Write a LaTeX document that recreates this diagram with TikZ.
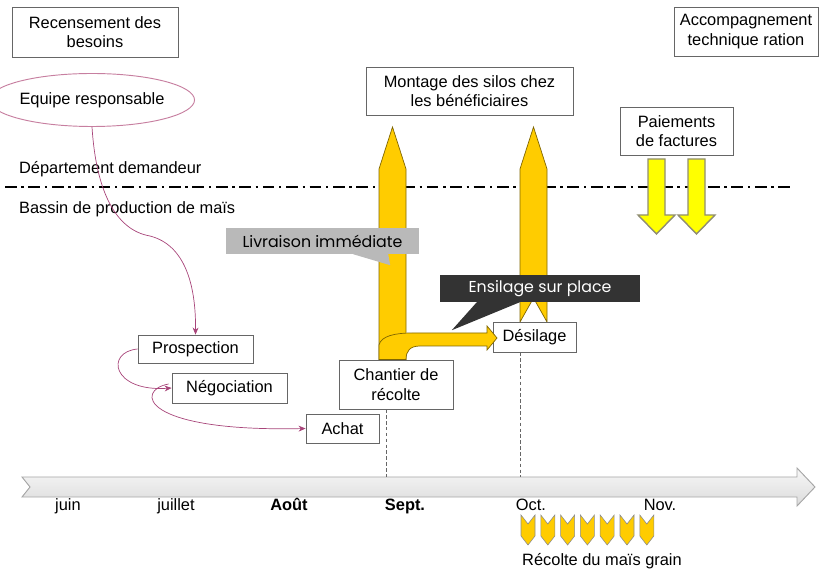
\documentclass[tikz,border=0pt]{standalone}
\usepackage{fontspec}
\setmainfont{Liberation Sans}
\newfontfamily\comicfont{Poppins}
\usetikzlibrary{shapes.geometric,positioning,arrows.meta,calc}

\definecolor{maisgold}{HTML}{FFCC00}
\definecolor{payyellow}{HTML}{FFFF00}
\definecolor{mauve}{HTML}{A8457A}
\definecolor{pinkline}{HTML}{C77FA0}
\definecolor{darkcall}{HTML}{333333}

\begin{document}
\begin{tikzpicture}[
    x=0.03cm, y=-0.03cm,
    font=\fontsize{14}{16.5}\selectfont,
    tbox/.style={rectangle, draw=black!60, fill=white, line width=0.7pt, align=center, inner sep=0pt},
    oval/.style={ellipse, draw=pinkline, line width=0.8pt, inner sep=0pt},
    link/.style={-{Stealth[length=6pt,width=5pt]}, draw=mauve, line width=0.6pt},
    silo/.style={fill=maisgold, draw=black!50!maisgold, line width=0.6pt},
    pay/.style={fill=payyellow, draw=gray!80!olive, line width=1.2pt},
    callout/.style={rectangle, inner sep=0pt, font=\comicfont\fontsize{13.5}{15}\selectfont},
    guide/.style={draw=black!60, line width=0.8pt, dash pattern=on 3pt off 2pt},
    grain/.style={fill=maisgold, draw=black!45, line width=0.5pt},
    month/.style={anchor=base},
]
\useasboundingbox (0,0) rectangle (833,571);

% Separation line between the two zones
\coordinate (sepL) at (5,187);
\coordinate (sepR) at (790,187);
\draw[line width=1.6pt, dash pattern=on 10pt off 4pt on 2pt off 4pt] (sepL) -- (sepR);
\node[anchor=west] (dept) at (15,169) {Département demandeur};
\node[anchor=west] (bassin) at (15,209) {Bassin de production de maïs};

% Silo arrows
\draw[silo] (379,362) -- (379,169) -- (392.5,127) -- (406,169) -- (406,362) -- cycle;
\draw[silo] (520,322) -- (520,169) -- (533.5,127) -- (547,169) -- (547,322) -- (533.5,298) -- cycle;

% Top boxes
\node[tbox, minimum width=4.98cm, minimum height=1.5cm] (recens) at (95,32) {Recensement des\\besoins};
\node[tbox, minimum width=4.32cm, minimum height=1.47cm] (accomp) at (746,31.5) {Accompagnement\\technique ration};
\node[tbox, minimum width=6.21cm, minimum height=1.44cm] (montage) at (469.5,91) {Montage des silos chez\\les bénéficiaires};
\node[tbox, minimum width=3.39cm, minimum height=1.44cm] (paiem) at (676.5,131) {Paiements\\de factures};
\node[oval, minimum width=4.8cm, minimum height=1.59cm] (equipe) at (92,100) {Equipe responsable};

% Payment arrows
\draw[pay] (648,159) -- (665,159) -- (665,215) -- (675,215) -- (656.5,234) -- (638,215) -- (648,215) -- cycle;
\draw[pay] (688,159) -- (705,159) -- (705,215) -- (715,215) -- (696.5,234) -- (678,215) -- (688,215) -- cycle;

% Callouts
\node[callout, fill=gray!55, minimum width=5.79cm, minimum height=0.78cm] (livraison) at (322.5,241) {Livraison immédiate};
\fill[gray!55] ($(livraison.south east)+(-66,0)$) -- ($(livraison.south east)+(-29,11)$) -- ($(livraison.south east)+(-31,0)$) -- cycle;
\node[callout, fill=darkcall, text=white, minimum width=6cm, minimum height=0.81cm] (ensilage) at (540,288.5) {Ensilage sur place};
\fill[darkcall] ($(ensilage.south west)+(37,0)$) -- ($(ensilage.south west)+(12,28)$) -- ($(ensilage.south west)+(80,0)$) -- cycle;

% Process boxes
\node[tbox, minimum width=3.45cm, minimum height=0.84cm] (prosp) at (195.5,349) {Prospection};
\node[tbox, minimum width=3.45cm, minimum height=0.9cm] (nego) at (229.5,388) {Négociation};
\node[tbox, minimum width=2.19cm, minimum height=0.87cm] (achat) at (342.5,428.5) {Achat};
\node[tbox, minimum width=3.42cm, minimum height=1.47cm] (chantier) at (396,384.5) {Chantier de\\récolte};
\node[tbox, minimum width=2.49cm, minimum height=0.9cm] (desil) at (534.5,337) {Désilage};

% Bent arrow towards Desilage
\draw[silo] (379,345) .. controls (381,336) and (395,333) .. (412,333) -- (487,333) -- (487,326)
    -- (497,338) -- (487,350) -- (487,346) -- (420,346) .. controls (410,346) and (406,351) .. (406,359.6) -- (379,359.6) -- cycle;

% Links
\draw[link] (equipe.south) .. controls (96,190) and (115,230) .. (150,236)
    .. controls (185,245) and (196,285) .. (prosp.north);
\draw[link] (prosp.west) .. controls (105,352) and (112,392) .. (nego.west);
\draw[link] ($(nego.west)+(-3,-4)$) .. controls (135,390) and (140,432) .. (achat.west);

% Time line
\shade[top color=gray!6, bottom color=gray!28, draw=gray!70, line width=0.8pt]
    (22,477) -- (797,477) -- (797,468) -- (815,487) -- (797,506) -- (797,497) -- (22,497) -- (30,487) -- cycle;
\coordinate (tsept) at (386,477);
\coordinate (toct) at (520,477);
\draw[guide] (chantier.south -| tsept) -- (tsept);
\draw[guide] (desil.south -| toct) -- (toct);

\node[month] (juin) at (68,510) {juin};
\node[month] (juillet) at (176,510) {juillet};
\node[month] (aout) at (289,510) {\bfseries Août};
\node[month] (msept) at (405,510) {\bfseries Sept.};
\node[month] (moct) at (531,510) {Oct.};
\node[month] (mnov) at (660,510) {Nov.};

% Grain harvest
\foreach \i in {0,...,6}{
    \draw[grain] ({521+19.8*\i},515) -- ++(7,9) -- ++(7,-9) -- ++(0,21) -- ++(-7,9) -- ++(-7,-9) -- cycle;
}
\node (recolte) at (602,561) {Récolte du maïs grain};

\end{tikzpicture}
\end{document}
